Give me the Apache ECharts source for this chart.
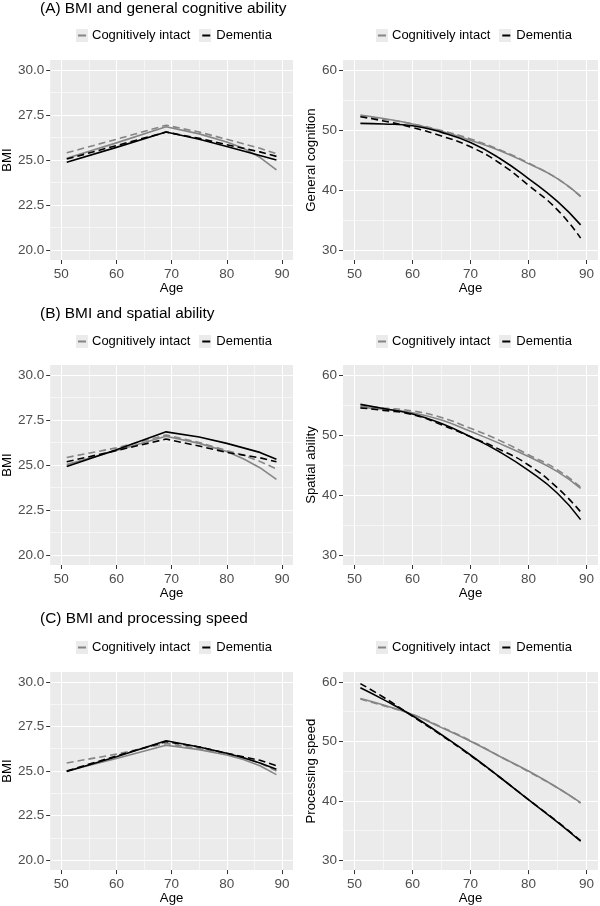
<!DOCTYPE html>
<html>
<head>
<meta charset="utf-8">
<script src="https://cdn.jsdelivr.net/npm/echarts@6/dist/echarts.min.js"></script>
<style>
  html, body { margin: 0; padding: 0; background: #fff; }
  #chart { width: 600px; height: 906px; }
</style>
</head>
<body>
<div id="chart"></div>
<script>
const bmiAges = [51, 60, 69, 75, 80, 83, 86, 89];
const cogAges = [51, 55, 60, 65, 70, 75, 80, 85, 89];

// tick values
const ageTicks = [50, 60, 70, 80, 90];
const ageMinor = [55, 65, 75, 85];
const bmiTicks = [20, 22.5, 25, 27.5, 30];
const bmiMinor = [21.25, 23.75, 26.25, 28.75];
const cogTicks = [30, 40, 50, 60];
const cogMinor = [35, 45, 55];

// (A) BMI and general cognitive ability
const bmiA_intact = [25.1, 25.95, 26.85, 26.45, 26.0, 25.65, 25.15, 24.45];
const bmiA_intactDash = [25.4, 26.15, 26.93, 26.55, 26.15, 25.9, 25.65, 25.35];
const bmiA_dem = [24.88, 25.7, 26.55, 26.15, 25.75, 25.5, 25.25, 25.0];
const bmiA_demDash = [25.05, 25.8, 26.55, 26.2, 25.85, 25.65, 25.45, 25.2];
const gen_intact = [52.5, 51.9, 51.0, 49.8, 48.3, 46.6, 44.4, 41.9, 39.0];
const gen_intactDash = [52.3, 51.8, 51.0, 49.9, 48.5, 46.7, 44.5, 41.9, 38.9];
const gen_dem = [51.1, 51.0, 50.7, 49.6, 47.9, 45.3, 41.9, 38.1, 34.2];
const gen_demDash = [52.2, 51.5, 50.4, 49.0, 47.2, 44.5, 40.8, 36.7, 32.0];

// (B) BMI and spatial ability
const bmiB_intact = [25.02, 25.8, 26.6, 26.2, 25.75, 25.35, 24.85, 24.2];
const bmiB_intactDash = [25.42, 25.95, 26.67, 26.25, 25.8, 25.55, 25.2, 24.78];
const bmiB_dem = [24.92, 25.85, 26.84, 26.55, 26.2, 25.95, 25.7, 25.32];
const bmiB_demDash = [25.18, 25.8, 26.44, 26.05, 25.7, 25.55, 25.4, 25.18];
const spa_intact = [54.6, 54.3, 53.7, 52.5, 50.6, 48.6, 46.4, 43.9, 41.1];
const spa_intactDash = [54.8, 54.5, 54.0, 52.9, 51.1, 49.1, 46.7, 44.2, 41.3];
const spa_dem = [55.1, 54.4, 53.5, 51.9, 49.7, 47.2, 44.1, 40.3, 35.9];
const spa_demDash = [54.5, 54.1, 53.4, 51.7, 49.7, 47.6, 45.0, 41.2, 37.2];

// (C) BMI and processing speed
const bmiC_intact = [25.0, 25.7, 26.45, 26.2, 25.9, 25.65, 25.3, 24.8];
const bmiC_intactDash = [25.45, 25.95, 26.55, 26.25, 25.95, 25.75, 25.45, 25.0];
const bmiC_dem = [24.98, 25.8, 26.7, 26.35, 26.0, 25.75, 25.45, 25.1];
const bmiC_demDash = [25.0, 25.85, 26.65, 26.35, 26.0, 25.8, 25.6, 25.3];
const spd_intact = [57.2, 56.1, 54.5, 52.3, 50.0, 47.5, 45.0, 42.2, 39.7];
const spd_intactDash = [57.1, 56.0, 54.5, 52.4, 50.1, 47.5, 44.9, 42.2, 39.6];
const spd_dem = [59.0, 57.0, 54.3, 51.1, 47.7, 44.0, 40.2, 36.4, 33.2];
const spd_demDash = [59.7, 57.4, 54.2, 51.0, 47.6, 44.0, 40.2, 36.5, 33.3];

const FONT = 'Liberation Sans, Arial, sans-serif';
const GREY = '#858585';
const BLACK = '#000000';

const rows = [
  { title: '(A) BMI and general cognitive ability', titleTop: 1, legendTop: 29, gridTop: 60,
    bmi: [bmiA_intact, bmiA_intactDash, bmiA_dem, bmiA_demDash],
    cogName: 'General cognition', cog: [gen_intact, gen_intactDash, gen_dem, gen_demDash] },
  { title: '(B) BMI and spatial ability', titleTop: 306, legendTop: 335, gridTop: 365,
    bmi: [bmiB_intact, bmiB_intactDash, bmiB_dem, bmiB_demDash],
    cogName: 'Spatial ability', cog: [spa_intact, spa_intactDash, spa_dem, spa_demDash] },
  { title: '(C) BMI and processing speed', titleTop: 611, legendTop: 641, gridTop: 672,
    bmi: [bmiC_intact, bmiC_intactDash, bmiC_dem, bmiC_demDash],
    cogName: 'Processing speed', cog: [spd_intact, spd_intactDash, spd_dem, spd_demDash] }
];

function zip(xs, ys) {
  return xs.map((x, i) => [x, ys[i]]);
}

function xAxisOpt(gi) {
  return {
    type: 'value', gridIndex: gi, min: 48, max: 92,
    name: 'Age', nameLocation: 'middle', nameGap: 20,
    nameTextStyle: { color: '#000', fontSize: 13.2, fontFamily: FONT },
    axisLine: { show: false },
    axisTick: { show: true, length: 4, lineStyle: { color: '#333' }, customValues: ageTicks },
    axisLabel: { customValues: ageTicks, color: '#4d4d4d', fontSize: 13.5, fontFamily: FONT, margin: 7 },
    splitLine: { show: true, lineStyle: { color: '#fff', width: 1.1 } }
  };
}

function yAxisOpt(gi, min, max, ticks, name, gap, fmt) {
  return {
    type: 'value', gridIndex: gi, min: min, max: max,
    name: name, nameLocation: 'middle', nameGap: gap, nameRotate: 90,
    nameTextStyle: { color: '#000', fontSize: 13.2, fontFamily: FONT },
    axisLine: { show: false },
    axisTick: { show: true, length: 4, lineStyle: { color: '#333' }, customValues: ticks },
    axisLabel: { customValues: ticks, formatter: fmt, color: '#4d4d4d', fontSize: 13.5, fontFamily: FONT, margin: 6 },
    splitLine: { show: true, lineStyle: { color: '#fff', width: 1.1 } }
  };
}

function lineSeries(gi, ages, set, smooth) {
  const styles = [
    ['Cognitively intact', GREY, 'solid'],
    ['Cognitively intact', GREY, [7, 4]],
    ['Dementia', BLACK, 'solid'],
    ['Dementia', BLACK, [7, 4]]
  ];
  return styles.map((s, k) => ({
    type: 'line', name: s[0], xAxisIndex: gi, yAxisIndex: gi,
    data: zip(ages, set[k]), smooth: smooth, symbol: 'none',
    lineStyle: { color: s[1], width: 1.6, type: s[2] },
    itemStyle: { color: s[1] },
    z: 3
  }));
}

// minor grid lines, drawn through the axes as mark lines
function minorGrid(gi, yMinor) {
  return {
    type: 'line', xAxisIndex: gi, yAxisIndex: gi, data: [], silent: true, z: 1,
    markLine: {
      silent: true, symbol: 'none', z: 1, animation: false,
      label: { show: false },
      lineStyle: { color: '#fff', width: 0.55, type: 'solid' },
      emphasis: { disabled: true },
      data: ageMinor.map(v => ({ xAxis: v })).concat(yMinor.map(v => ({ yAxis: v })))
    }
  };
}

const grid = [], xAxis = [], yAxis = [], series = [], title = [], legend = [], graphic = [];

rows.forEach((r, i) => {
  const gl = i * 2, gr = i * 2 + 1;
  grid.push({ left: 48, top: r.gridTop, width: 245, height: 200, show: true, backgroundColor: '#ebebeb', borderWidth: 0 });
  grid.push({ left: 343, top: r.gridTop, width: 255, height: 200, show: true, backgroundColor: '#ebebeb', borderWidth: 0 });
  xAxis.push(xAxisOpt(gl), xAxisOpt(gr));
  yAxis.push(yAxisOpt(gl, 19.45, 30.55, bmiTicks, 'BMI', 35, v => v.toFixed(1)));
  yAxis.push(yAxisOpt(gr, 28.35, 61.65, cogTicks, r.cogName, 24, v => String(v)));
  series.push(minorGrid(gl, bmiMinor), minorGrid(gr, cogMinor));
  series.push(...lineSeries(gl, bmiAges, r.bmi, false));
  series.push(...lineSeries(gr, cogAges, r.cog, true));

  title.push({
    text: r.title, left: 40, top: r.titleTop, padding: 0,
    textStyle: { color: '#000', fontSize: 15.4, fontWeight: 'normal', fontFamily: FONT }
  });
  [0, 300].forEach(dx => {
    legend.push({
      data: ['Cognitively intact', 'Dementia'], left: 78 + dx, top: r.legendTop, padding: 0,
      icon: 'rect', itemWidth: 8, itemHeight: 2, itemGap: 12, selectedMode: false,
      itemStyle: { borderWidth: 0 },
      lineStyle: { type: 'solid' },
      textStyle: { color: '#000', fontSize: 13, fontFamily: FONT, padding: [0, 0, 0, 1] }
    });
    // grey key backgrounds like ggplot legend keys
    [76, 199].forEach(kx => {
      graphic.push({
        type: 'rect', z: 0, silent: true,
        shape: { x: kx + dx, y: r.legendTop, width: 12, height: 13 },
        style: { fill: '#ebebeb' }
      });
    });
  });
});

const chart = echarts.init(document.getElementById('chart'), null, { renderer: 'canvas' });
chart.setOption({
  animation: false,
  backgroundColor: '#fff',
  title: title,
  legend: legend,
  grid: grid,
  xAxis: xAxis,
  yAxis: yAxis,
  series: series,
  graphic: graphic
});
</script>
</body>
</html>
